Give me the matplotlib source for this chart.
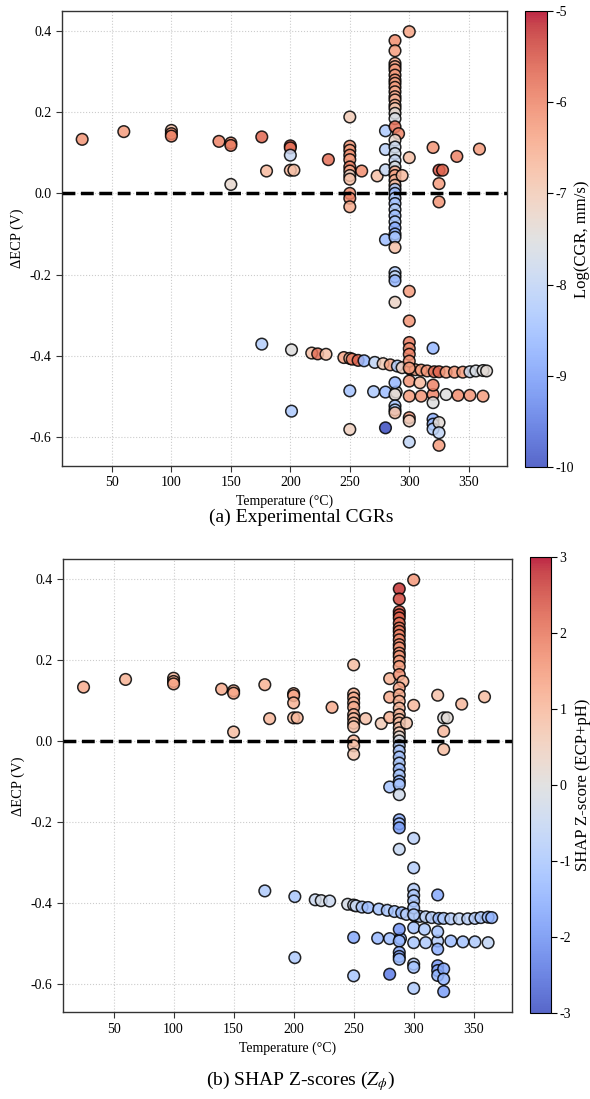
import numpy as np
import matplotlib
matplotlib.use('Agg')
import matplotlib.pyplot as plt

plt.rcParams['font.family'] = ['Liberation Serif', 'DejaVu Serif']
plt.rcParams['mathtext.fontset'] = 'stix'

# temperature (C), ECP shift (V), log10 crack growth rate, SHAP z-score
temp = [25, 60, 100, 100, 100, 140, 150, 150, 150, 176, 180, 200, 200, 200, 200, 203, 232,
        250, 250, 250, 250, 250, 250, 250, 250, 250, 250, 250, 250, 260, 273,
        280, 280, 280, 280,
        288, 288, 288, 288, 288, 288, 288, 288, 288, 288, 288, 288, 288, 288, 288, 288,
        288, 291, 288, 288, 288, 288, 288, 288, 288, 288, 288, 288, 288, 294,
        288, 288, 288, 288, 288, 288, 288, 288, 288, 288, 288, 288, 288,
        300, 300, 300, 300,
        320, 325, 328, 325, 325, 340, 359,
        176, 201, 218, 223, 230, 245, 250, 252, 257, 262, 271, 278, 284, 290, 294,
        301, 305, 310, 315, 321, 325, 331, 338, 345, 351, 356, 362, 365,
        250, 270, 280, 289, 300, 310, 320, 331, 341, 351, 362,
        300, 300, 300, 300, 300, 300, 309, 300, 300, 300,
        320, 320, 320, 320, 320, 320, 325, 325, 325,
        288, 288, 288, 288, 288,
        280, 250, 201]
decp = [0.133, 0.152, 0.155, 0.147, 0.141, 0.128, 0.124, 0.118, 0.022, 0.139, 0.055,
        0.117, 0.112, 0.094, 0.057, 0.057, 0.083,
        0.188, 0.116, 0.106, 0.094, 0.083, 0.065, 0.055, 0.044, 0.035, 0.0, -0.012, -0.033,
        0.055, 0.043,
        0.154, 0.108, 0.058, -0.114,
        0.376, 0.351, 0.320, 0.312, 0.304, 0.291, 0.279, 0.271, 0.261, 0.250, 0.238, 0.230,
        0.217, 0.209, 0.197, 0.184, 0.164, 0.147, 0.131, 0.114, 0.098, 0.081, 0.065, 0.053,
        0.044, 0.032, 0.020, 0.010, 0.0, 0.044,
        -0.012, -0.025, -0.040, -0.055, -0.070, -0.085, -0.100, -0.108, -0.133, -0.195,
        -0.205, -0.215, -0.268,
        0.398, 0.088, -0.241, -0.314,
        0.113, 0.057, 0.057, 0.024, -0.021, 0.091, 0.109,
        -0.371, -0.385, -0.393, -0.395, -0.396, -0.404, -0.406, -0.408, -0.411, -0.412,
        -0.416, -0.419, -0.422, -0.425, -0.429,
        -0.433, -0.434, -0.435, -0.437, -0.439, -0.439, -0.440, -0.440, -0.440, -0.439,
        -0.437, -0.436, -0.437,
        -0.486, -0.488, -0.489, -0.489, -0.499, -0.499, -0.495, -0.495, -0.497, -0.497, -0.499,
        -0.367, -0.382, -0.396, -0.413, -0.430, -0.462, -0.466, -0.552, -0.560, -0.612,
        -0.381, -0.472, -0.515, -0.556, -0.568, -0.580, -0.564, -0.589, -0.620,
        -0.466, -0.495, -0.523, -0.533, -0.540,
        -0.577, -0.581, -0.536]
log_cgr = [-6.2, -6.3, -6.8, -6.2, -6.0, -6.0, -6.2, -5.9, -7.3, -5.7, -6.7,
           -5.6, -5.8, -7.9, -6.7, -6.8, -5.8,
           -7.0, -6.2, -6.3, -6.2, -6.3, -6.0, -6.4, -7.2, -6.8, -6.1, -6.0, -6.5,
           -6.1, -6.8,
           -8.3, -8.1, -7.9, -8.5,
           -6.1, -6.3, -6.5, -6.4, -6.3, -6.3, -6.2, -6.4, -6.3, -6.5, -6.5, -6.6,
           -6.6, -6.9, -7.4, -7.6, -5.8, -6.0, -7.3, -7.8, -7.7, -7.9, -7.6, -6.5,
           -6.4, -6.6, -6.8, -8.3, -8.5, -6.7,
           -8.3, -8.4, -8.2, -8.5, -8.3, -8.8, -8.6, -8.4, -6.8, -8.2,
           -8.0, -8.6, -7.2,
           -6.4, -6.8, -6.3, -6.2,
           -6.2, -5.5, -5.7, -6.3, -6.2, -6.0, -6.3,
           -8.2, -7.5, -6.8, -5.8, -6.8, -6.4, -6.8, -5.9, -5.7, -8.6,
           -8.0, -7.0, -6.4, -8.2, -7.1,
           -6.4, -6.5, -6.3, -6.2, -5.8, -5.7, -6.3, -6.2, -6.3, -7.8,
           -7.6, -7.5, -7.4,
           -8.4, -8.3, -8.5, -7.4, -6.3, -6.2, -6.0, -7.5, -6.1, -6.2, -6.3,
           -5.9, -6.1, -6.0, -6.2, -6.3, -6.2, -6.7, -6.3, -7.1, -8.0,
           -8.6, -6.0, -7.5, -8.7, -8.5, -8.2, -7.4, -8.0, -6.3,
           -8.6, -7.4, -8.4, -8.2, -6.8,
           -10.0, -7.1, -8.3]
shap_z = [1.2, 1.1, 1.0, 1.2, 1.3, 1.2, 1.1, 1.3, 0.9, 1.1, 1.0,
          1.2, 1.3, 1.1, 0.9, 1.0, 1.2,
          0.9, 1.1, 1.2, 1.1, 1.2, 1.1, 1.0, 0.9, 0.8, 1.0, 0.8, 0.7,
          0.8, 0.6,
          1.1, 1.2, 1.1, -1.1,
          2.7, 2.5, 2.3, 2.4, 2.2, 2.0, 1.9, 1.9, 1.8, 1.7, 1.6, 1.6,
          1.5, 1.5, 1.4, 1.4, 1.6, 1.1, 1.3, 1.2, 1.1, 1.0, 1.0, 0.9,
          0.9, 0.8, 0.6, 0.2, -0.2, 0.7,
          -0.8, -1.0, -1.1, -0.9, -1.2, -1.0, -1.3, -1.1, -0.3, -1.5,
          -1.2, -1.8, -0.5,
          1.5, 1.0, -0.7, -0.8,
          0.8, 0.0, 0.1, 1.0, 0.9, 1.0, 0.9,
          -0.9, -1.0, -0.4, -0.2, -0.4, -0.2, -0.3, -0.5, -0.9, -1.2,
          -1.1, -1.0, -1.1, -1.2, -0.8,
          -0.6, -0.7, -0.6, -0.8, -1.2, -0.9, -0.8, -0.6, -0.7, -0.8,
          -1.0, -1.2, -1.4,
          -1.6, -1.3, -1.2, -1.3, -1.0, -0.9, -0.8, -1.2, -1.1, -0.9, -0.6,
          -0.8, -0.9, -0.9, -1.0, -0.9, -1.1, -0.9, -0.7, -1.1, -0.9,
          -1.6, -1.1, -1.5, -1.9, -1.7, -1.4, -1.6, -1.4, -1.8,
          -1.9, -1.3, -1.6, -1.7, -1.2,
          -2.3, -1.0, -0.9]


def panel(fig, ax_rect, cb_rect, values, vmin, vmax, cb_label, cb_ticks, cb_pad):
    ax = fig.add_axes(ax_rect)
    cax = fig.add_axes(cb_rect)
    sc = ax.scatter(temp, decp, c=values, cmap='coolwarm', vmin=vmin, vmax=vmax,
                    s=70, edgecolors='black', linewidths=1.1, alpha=0.85, zorder=3)
    ax.axhline(0, color='black', linestyle='--', linewidth=2.5, zorder=4)
    ax.set_xticks([50, 100, 150, 200, 250, 300, 350])
    ax.set_yticks([-0.6, -0.4, -0.2, 0.0, 0.2, 0.4])
    ax.set_yticklabels(['-0.6', '-0.4', '-0.2', '0.0', '0.2', '0.4'])
    ax.grid(True, linestyle=':', color='#cccccc', linewidth=0.8)
    ax.set_axisbelow(True)
    for sp in ax.spines.values():
        sp.set_color('#333333')
        sp.set_linewidth(1.0)
    ax.tick_params(labelsize=10, color='#333333', length=4)
    ax.set_xlabel('Temperature (°C)', fontsize=10)
    ax.set_ylabel('ΔECP (V)', fontsize=10.5)

    cb = fig.colorbar(sc, cax=cax, ticks=cb_ticks)
    cb.solids.set_alpha(0.85)
    cb.outline.set_linewidth(0.8)
    cb.ax.tick_params(labelsize=10, length=4, pad=2)
    cb.ax.set_yticklabels([str(t) for t in cb_ticks])
    cb.set_label(cb_label, fontsize=12, labelpad=cb_pad)
    return ax


def main():
    fig = plt.figure(figsize=(5.9, 10.99), dpi=100)

    panel(fig, [0.105, 0.576, 0.754, 0.414], [0.890, 0.575, 0.037, 0.415],
          log_cgr, -10, -5, 'Log(CGR, mm/s)', [-10, -9, -8, -7, -6, -5], 0)
    fig.text(0.51, 0.529, '(a) Experimental CGRs', ha='center', va='center', fontsize=14)

    panel(fig, [0.107, 0.079, 0.761, 0.412], [0.898, 0.078, 0.036, 0.415],
          shap_z, -3, 3, 'SHAP Z-score (ECP+pH)', [-3, -2, -1, 0, 1, 2, 3], 3)
    fig.text(0.51, 0.016, '(b) SHAP Z-scores ($Z_\\phi$)', ha='center', va='center', fontsize=14)

    fig.savefig('out.png', dpi=100)


if __name__ == "__main__":
    main()
